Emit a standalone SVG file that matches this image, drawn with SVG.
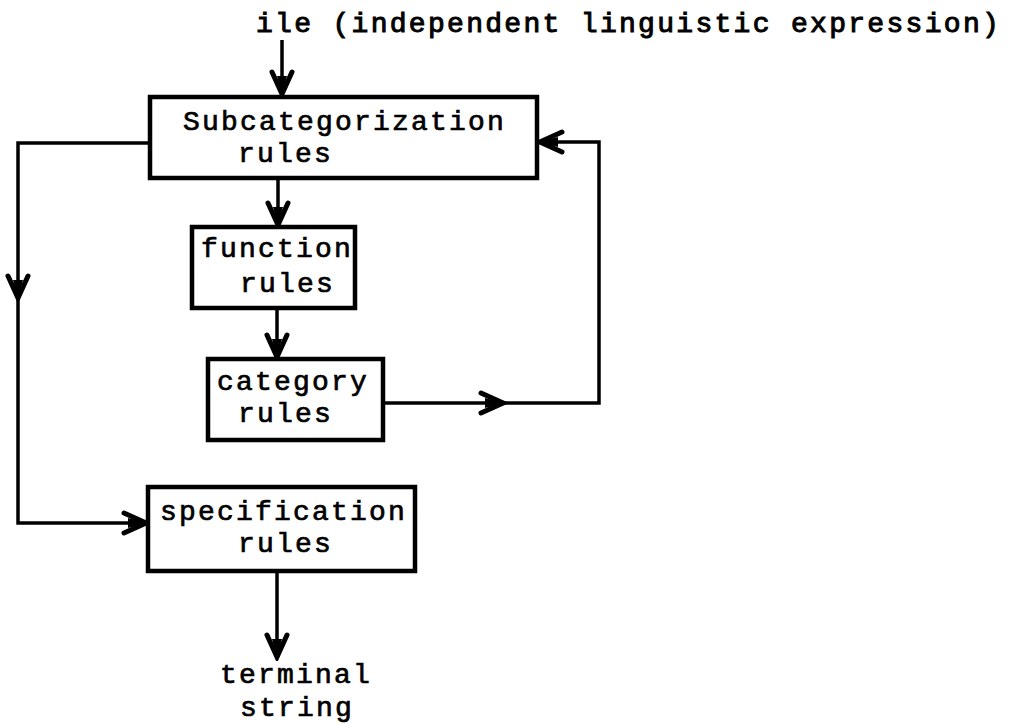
<svg xmlns="http://www.w3.org/2000/svg" width="1025" height="724" viewBox="0 0 1025 724">
  <style>
    .box { fill: #ffffff; stroke: #000; stroke-width: 4.5; }
    .t { font-family: "Liberation Mono", "DejaVu Sans Mono", monospace; font-size: 28px; letter-spacing: 2.2px; fill: #000; stroke: #000; stroke-width: 0.7; }
    .ln { fill: none; stroke: #000; stroke-width: 3.5; stroke-linejoin: miter; }
  </style>
  <defs>
    <marker id="ah" markerUnits="userSpaceOnUse" viewBox="-30 -15 34 30" refX="0" refY="0" markerWidth="34" markerHeight="30" orient="auto">
      <path d="M-22,-10 L0,0 L-22,10" fill="none" stroke="#000" stroke-width="5" stroke-linecap="round" stroke-linejoin="miter"/>
      <path d="M-18,-5 L0,0 L-18,5 Z" fill="#000"/>
    </marker>
  </defs>
  <rect width="1025" height="724" fill="#ffffff"/>

  <g id="input-label">
    <text class="t" x="256" y="32" textLength="745" style="stroke-width:1">ile (independent linguistic expression)</text>
  </g>

  <g id="connectors">
    <path class="ln" d="M282,40 V94" marker-end="url(#ah)"/>
    <path class="ln" d="M278,178 V225" marker-end="url(#ah)"/>
    <path class="ln" d="M277,308 V357" marker-end="url(#ah)"/>
    <path class="ln" d="M383,403 H503" marker-end="url(#ah)"/>
    <path class="ln" d="M500,403 H599 V142 H540" marker-end="url(#ah)"/>
    <path class="ln" d="M150,143 H18 V298" marker-end="url(#ah)"/>
    <path class="ln" d="M18,295 V523 H146" marker-end="url(#ah)"/>
    <path class="ln" d="M277,571 V657" marker-end="url(#ah)"/>
  </g>

  <g id="subcategorization">
    <rect class="box" x="150" y="97" width="387" height="81"/>
    <text class="t" x="183" y="130">Subcategorization</text>
    <text class="t" x="238" y="162">rules</text>
  </g>

  <g id="function">
    <rect class="box" x="192" y="227" width="163" height="81"/>
    <text class="t" x="201" y="257">function</text>
    <text class="t" x="240" y="292">rules</text>
  </g>

  <g id="category">
    <rect class="box" x="208" y="359" width="175" height="81"/>
    <text class="t" x="217" y="390">category</text>
    <text class="t" x="238" y="422">rules</text>
  </g>

  <g id="specification">
    <rect class="box" x="148" y="487" width="267" height="84"/>
    <text class="t" x="160" y="520">specification</text>
    <text class="t" x="238" y="552">rules</text>
  </g>

  <g id="terminal">
    <text class="t" x="220" y="683">terminal</text>
    <text class="t" x="240" y="716">string</text>
  </g>
</svg>
